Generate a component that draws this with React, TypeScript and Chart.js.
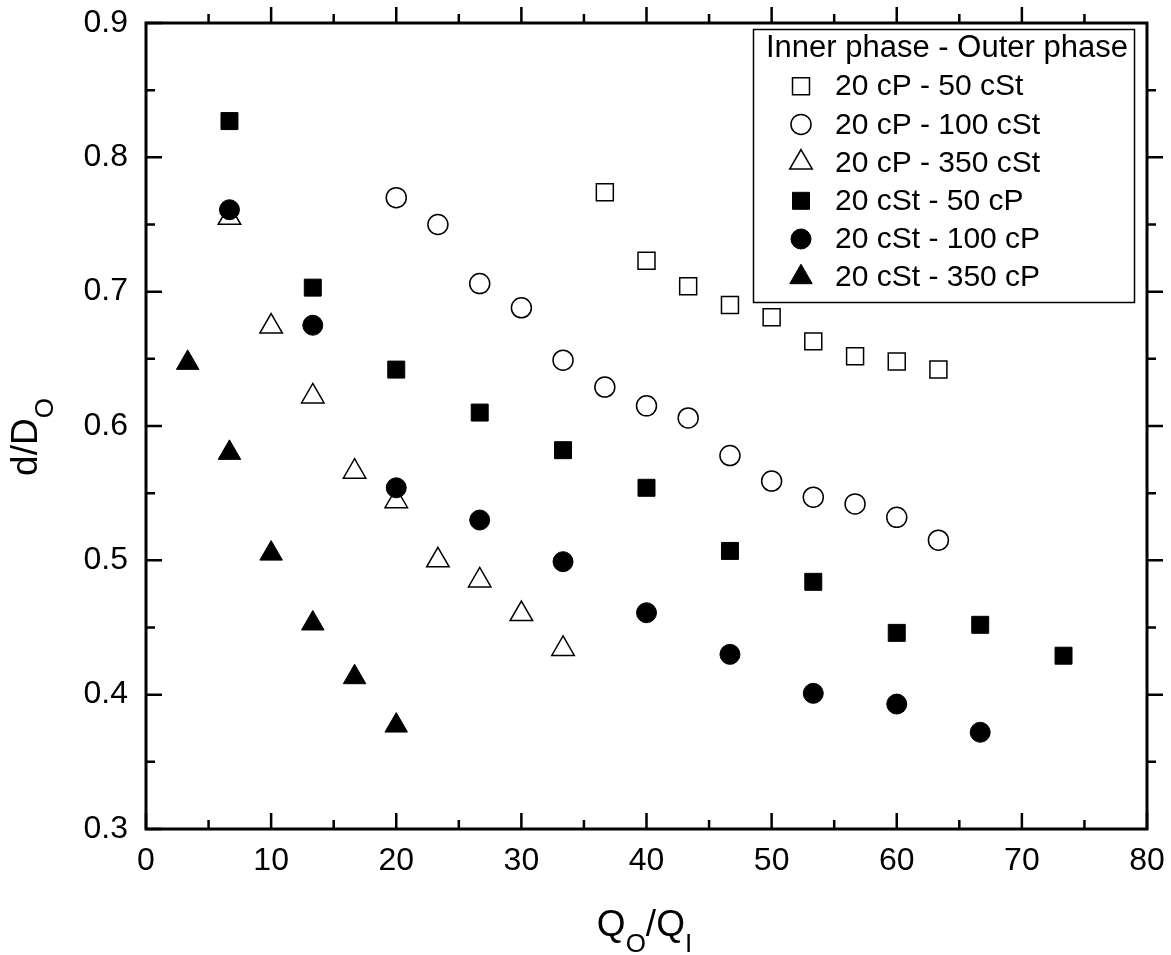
import React, { useEffect, useRef } from "react";
import { Chart, registerables } from "chart.js";
import { drawPoint } from "chart.js/helpers";

Chart.register(...registerables);

const FONT = "'Liberation Sans', Arial, Helvetica, sans-serif";

// ---- data ----
const legendTitle = "Inner phase - Outer phase";
const seriesLabels = [
  "20 cP - 50 cSt",
  "20 cP - 100 cSt",
  "20 cP - 350 cSt",
  "20 cSt - 50 cP",
  "20 cSt - 100 cP",
  "20 cSt - 350 cP",
];

const cP20_cSt50_x = [36.67, 40, 43.33, 46.67, 50, 53.33, 56.67, 60, 63.33];
const cP20_cSt50_y = [0.774, 0.723, 0.704, 0.690, 0.681, 0.663, 0.652, 0.648, 0.642];

const cP20_cSt100_x = [20, 23.33, 26.67, 30, 33.33, 36.67, 40, 43.33, 46.67, 50, 53.33, 56.67, 60, 63.33];
const cP20_cSt100_y = [0.770, 0.750, 0.706, 0.688, 0.649, 0.629, 0.615, 0.606, 0.578, 0.559, 0.547, 0.542, 0.532, 0.515];

const cP20_cSt350_x = [6.67, 10, 13.33, 16.67, 20, 23.33, 26.67, 30, 33.33];
const cP20_cSt350_y = [0.755, 0.674, 0.622, 0.566, 0.544, 0.500, 0.485, 0.460, 0.434];

const cSt20_cP50_x = [6.67, 13.33, 20, 26.67, 33.33, 40, 46.67, 53.33, 60, 66.67, 73.33];
const cSt20_cP50_y = [0.827, 0.703, 0.642, 0.610, 0.582, 0.554, 0.507, 0.484, 0.446, 0.452, 0.429];

const cSt20_cP100_x = [6.67, 13.33, 20, 26.67, 33.33, 40, 46.67, 53.33, 60, 66.67];
const cSt20_cP100_y = [0.761, 0.675, 0.554, 0.530, 0.499, 0.461, 0.430, 0.401, 0.393, 0.372];

const cSt20_cP350_x = [3.33, 6.67, 10, 13.33, 16.67, 20];
const cSt20_cP350_y = [0.647, 0.580, 0.505, 0.453, 0.413, 0.377];

const xMajorTicks = [0, 10, 20, 30, 40, 50, 60, 70, 80];
const xMinorTicks = [5, 15, 25, 35, 45, 55, 65, 75];
const yMajorTicks = [0.3, 0.4, 0.5, 0.6, 0.7, 0.8, 0.9];
const yMinorTicks = [0.35, 0.45, 0.55, 0.65, 0.75, 0.85];

const seriesX = [cP20_cSt50_x, cP20_cSt100_x, cP20_cSt350_x, cSt20_cP50_x, cSt20_cP100_x, cSt20_cP350_x];
const seriesY = [cP20_cSt50_y, cP20_cSt100_y, cP20_cSt350_y, cSt20_cP50_y, cSt20_cP100_y, cSt20_cP350_y];
const seriesStyle = ["rect", "circle", "triangle", "rect", "circle", "triangle"];
const seriesFilled = [false, false, false, true, true, true];

// ---- styles ----
const radiusFor = (s: string) => (s === "rect" ? 12 : s === "circle" ? 10 : 13);

function drawRich(ctx: CanvasRenderingContext2D, parts: { t: string; sub: boolean }[], cx: number, baseline: number, mainSize: number, subSize: number, subDrop: number) {
  let total = 0;
  const widths = parts.map((p) => {
    ctx.font = `${p.sub ? subSize : mainSize}px ${FONT}`;
    const w = ctx.measureText(p.t).width;
    total += w;
    return w;
  });
  let x = cx - total / 2;
  ctx.textAlign = "left";
  ctx.textBaseline = "alphabetic";
  parts.forEach((p, i) => {
    ctx.font = `${p.sub ? subSize : mainSize}px ${FONT}`;
    ctx.fillText(p.t, x, baseline + (p.sub ? subDrop : 0));
    x += widths[i];
  });
}

const framePlugin = {
  id: "frameTicksTitlesLegend",
  afterDraw(chart: any) {
    const ctx: CanvasRenderingContext2D = chart.ctx;
    const { left, right, top, bottom } = chart.chartArea;
    const xs = chart.scales.x;
    const ys = chart.scales.y;
    ctx.save();
    ctx.strokeStyle = "#000";
    ctx.fillStyle = "#000";

    // ticks
    ctx.lineWidth = 2.5;
    ctx.beginPath();
    const majorLen = 16;
    const minorLen = 9;
    xMajorTicks.forEach((v) => {
      const px = xs.getPixelForValue(v);
      ctx.moveTo(px, bottom);
      ctx.lineTo(px, bottom - majorLen);
      if (v !== xMajorTicks[0] && v !== xMajorTicks[xMajorTicks.length - 1]) {
        ctx.moveTo(px, top);
        ctx.lineTo(px, top - majorLen);
      }
    });
    xMinorTicks.forEach((v) => {
      const px = xs.getPixelForValue(v);
      ctx.moveTo(px, bottom);
      ctx.lineTo(px, bottom - minorLen);
      ctx.moveTo(px, top);
      ctx.lineTo(px, top - minorLen);
    });
    yMajorTicks.forEach((v) => {
      const py = ys.getPixelForValue(v);
      ctx.moveTo(left, py);
      ctx.lineTo(left + majorLen, py);
      if (v !== yMajorTicks[0] && v !== yMajorTicks[yMajorTicks.length - 1]) {
        ctx.moveTo(right, py);
        ctx.lineTo(right + majorLen, py);
      }
    });
    yMinorTicks.forEach((v) => {
      const py = ys.getPixelForValue(v);
      ctx.moveTo(left, py);
      ctx.lineTo(left + minorLen, py);
      ctx.moveTo(right, py);
      ctx.lineTo(right + minorLen, py);
    });
    ctx.stroke();

    // frame
    ctx.lineWidth = 3;
    ctx.strokeRect(left, top, right - left, bottom - top);

    // x title
    drawRich(
      ctx,
      [
        { t: "Q", sub: false },
        { t: "O", sub: true },
        { t: "/Q", sub: false },
        { t: "I", sub: true },
      ],
      (left + right) / 2 - 2,
      936,
      37,
      26,
      16
    );

    // y title (rotated)
    ctx.save();
    ctx.translate(37, 437);
    ctx.rotate(-Math.PI / 2);
    drawRich(
      ctx,
      [
        { t: "d/D", sub: false },
        { t: "O", sub: true },
      ],
      0,
      0,
      37,
      26,
      16
    );
    ctx.restore();

    // legend
    const bx = 753.5, by = 29.5, bw = 381, bh = 273;
    ctx.fillStyle = "#fff";
    ctx.fillRect(bx, by, bw, bh);
    ctx.lineWidth = 1.5;
    ctx.strokeStyle = "#000";
    ctx.strokeRect(bx, by, bw, bh);
    ctx.fillStyle = "#000";
    ctx.font = `31px ${FONT}`;
    ctx.textAlign = "left";
    ctx.textBaseline = "middle";
    const rowGap = 38.2;
    const titleY = 48;
    ctx.fillText(legendTitle, 766, titleY);
    seriesLabels.forEach((lab, i) => {
      const y = titleY + (i + 1) * rowGap;
      const style = seriesStyle[i];
      ctx.save();
      ctx.fillStyle = seriesFilled[i] ? "#000" : "#fff";
      ctx.strokeStyle = "#000";
      ctx.lineWidth = seriesFilled[i] ? 1 : 1.5;
      drawPoint(ctx, { pointStyle: style, radius: radiusFor(style), rotation: 0, borderWidth: seriesFilled[i] ? 1 : 1.5 } as any, 801, y);
      ctx.restore();
      ctx.fillStyle = "#000";
      ctx.font = `30px ${FONT}`;
      ctx.textAlign = "left";
      ctx.textBaseline = "middle";
      ctx.fillText(lab, 835, y + 1);
    });

    ctx.restore();
  },
};

export default function App() {
  const canvasRef = useRef<HTMLCanvasElement | null>(null);

  useEffect(() => {
    const canvas = canvasRef.current;
    if (!canvas) return;
    const datasets = seriesLabels.map((label, i) => {
      const style = seriesStyle[i];
      const filled = seriesFilled[i];
      return {
        label,
        data: seriesX[i].map((x, j) => ({ x, y: seriesY[i][j] })),
        showLine: false,
        pointStyle: style,
        pointRadius: radiusFor(style),
        pointHoverRadius: radiusFor(style),
        backgroundColor: filled ? "#000" : "#fff",
        borderColor: "#000",
        borderWidth: filled ? 1 : 1.5,
        pointBorderWidth: filled ? 1 : 1.5,
        order: filled ? 0 : 1,
      };
    });

    const chart = new Chart(canvas, {
      type: "scatter",
      data: { datasets } as any,
      options: {
        animation: false,
        responsive: false,
        maintainAspectRatio: false,
        devicePixelRatio: 1,
        layout: { padding: { top: 23, right: 24, left: 0, bottom: 0 } },
        plugins: {
          legend: { display: false },
          tooltip: { enabled: false },
          title: { display: false },
        },
        scales: {
          x: {
            type: "linear",
            min: 0,
            max: 80,
            grid: { display: false, drawTicks: false },
            border: { display: false },
            ticks: {
              stepSize: 10,
              autoSkip: false,
              maxRotation: 0,
              color: "#000",
              padding: 13,
              font: { family: FONT, size: 32 },
            },
            afterFit: (s: any) => {
              s.height = 126;
              s.paddingLeft = 0;
              s.paddingRight = 0;
            },
          },
          y: {
            type: "linear",
            min: 0.3,
            max: 0.9,
            grid: { display: false, drawTicks: false },
            border: { display: false },
            ticks: {
              stepSize: 0.1,
              autoSkip: false,
              color: "#000",
              padding: 18,
              font: { family: FONT, size: 32 },
              callback: (v: any) => Number(v).toFixed(1),
            },
            afterFit: (s: any) => {
              s.width = 146;
              s.paddingTop = 0;
              s.paddingBottom = 0;
            },
          },
        },
      } as any,
      plugins: [framePlugin],
    });
    return () => chart.destroy();
  }, []);

  return (
    <div style={{ position: "absolute", left: 0, top: 0, width: 1171, height: 955, background: "#fff" }}>
      <canvas ref={canvasRef} width={1171} height={955} style={{ display: "block", width: 1171, height: 955 }} />
    </div>
  );
}
